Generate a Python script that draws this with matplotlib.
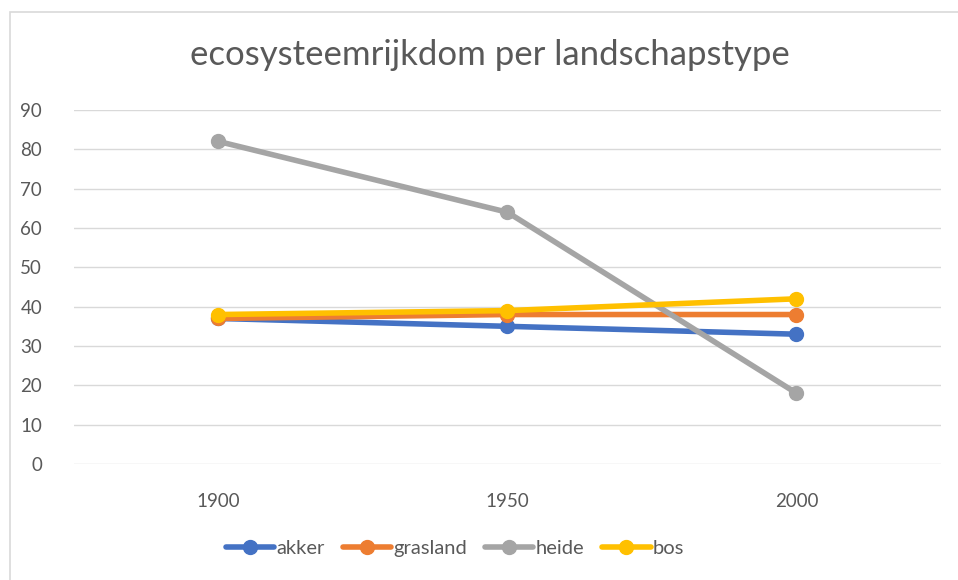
import matplotlib
matplotlib.use("Agg")
import matplotlib.pyplot as plt
from matplotlib.patches import Rectangle

plt.rcParams['font.family'] = ['Lato', 'DejaVu Sans']

years = ["1900", "1950", "2000"]
series_names = ["akker", "grasland", "heide", "bos"]
akker = [37, 35, 33]
grasland = [37, 38, 38]
heide = [82, 64, 18]
bos = [38, 39, 42]
colors = ["#4472C4", "#ED7D31", "#A5A5A5", "#FFC000"]
yticks = [0, 10, 20, 30, 40, 50, 60, 70, 80, 90]

W, H = 958, 580
fig = plt.figure(figsize=(W / 100, H / 100), dpi=100)
fig.patch.set_facecolor("white")

# chart border
fig.patches.append(Rectangle((9.5 / W, -0.1), 1.2, (H - 11.5) / H + 0.1,
                             transform=fig.transFigure, fill=False,
                             edgecolor="#D9D9D9", linewidth=1.2))

ax = fig.add_axes([74 / W, (H - 464) / H, 867 / W, 354 / H])
x = list(range(len(years)))
for name, vals, c in zip(series_names, [akker, grasland, heide, bos], colors):
    ax.plot(x, vals, color=c, linewidth=4.0, marker="o", markersize=10,
            label=name, solid_capstyle="round", zorder=3)

ax.set_xlim(-0.5, 2.5)
ax.set_ylim(0, 90)
ax.set_yticks(yticks)
ax.set_xticks(x)
ax.set_xticklabels(years)
for s in ax.spines.values():
    s.set_visible(False)
ax.grid(axis="y", color="#D9D9D9", linewidth=1.0, zorder=0)
ax.tick_params(axis="both", length=0, colors="#595959", labelsize=13.5)
ax.tick_params(axis="y", pad=23)
ax.tick_params(axis="x", pad=21)

fig.text(490 / W, 1 - 55 / H, "ecosysteemrijkdom per landschapstype",
         ha="center", va="center", fontsize=25, color="#595959")

leg = fig.legend(loc="center", bbox_to_anchor=(455 / W, 1 - 548 / H), ncol=4,
                 frameon=False, fontsize=14.5, handlelength=2.4,
                 handletextpad=0.1, columnspacing=0.9, labelcolor="#595959")

fig.savefig("out.png", dpi=100, facecolor="white")
